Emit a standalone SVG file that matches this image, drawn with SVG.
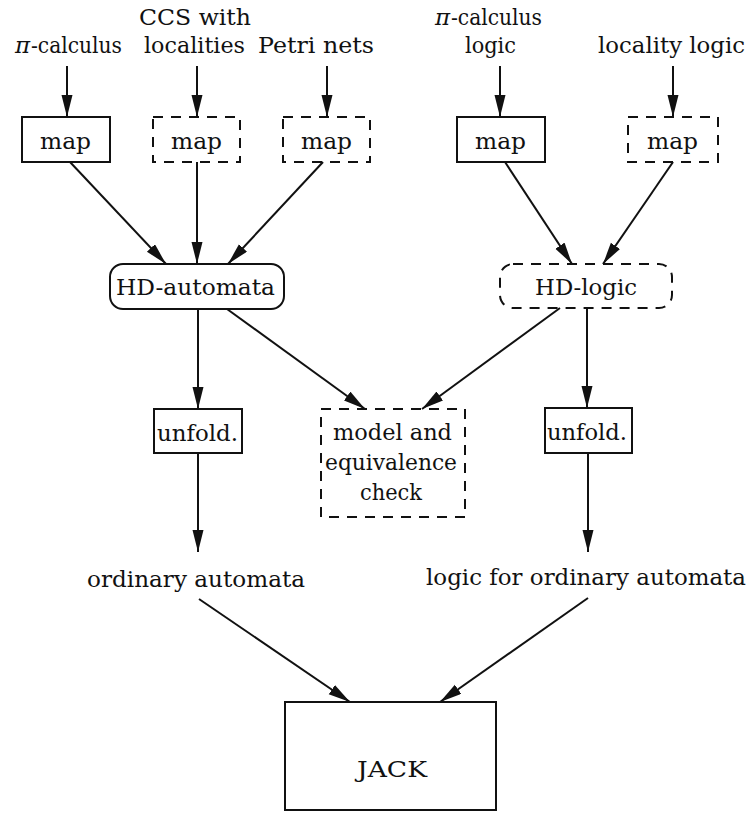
<svg xmlns="http://www.w3.org/2000/svg" width="750" height="814" viewBox="0 0 750 814">
<style>
text{font-family:"DejaVu Serif","Liberation Serif",serif;font-size:23px;fill:#111}
.b{fill:#fff;stroke:#111;stroke-width:2}
.d{fill:#fff;stroke:#111;stroke-width:2;stroke-dasharray:10 8}
.c line{stroke:#111;stroke-width:2;marker-end:url(#ah)}
.i{font-style:italic}
</style>
<defs>
<marker id="ah" markerUnits="userSpaceOnUse" markerWidth="24" markerHeight="12" refX="22" refY="5.5" orient="auto">
<path d="M0,0 L22,5.5 L0,11 Z" fill="#111"/>
</marker>
</defs>
<rect width="750" height="814" fill="#fff"/>
<g id="src-pi"><text class="i" x="15" y="53">π</text><text x="31" y="53" textLength="91" lengthAdjust="spacingAndGlyphs">-calculus</text></g>
<g id="src-ccs"><text x="139" y="25" textLength="112" lengthAdjust="spacingAndGlyphs">CCS with</text><text x="144" y="53" textLength="101" lengthAdjust="spacingAndGlyphs">localities</text></g>
<g id="src-petri"><text x="258" y="53" textLength="116" lengthAdjust="spacingAndGlyphs">Petri nets</text></g>
<g id="src-pilogic"><text class="i" x="435" y="25">π</text><text x="451" y="25" textLength="91" lengthAdjust="spacingAndGlyphs">-calculus</text><text x="465" y="53" textLength="51" lengthAdjust="spacingAndGlyphs">logic</text></g>
<g id="src-loclogic"><text x="598" y="53" textLength="147" lengthAdjust="spacingAndGlyphs">locality logic</text></g>
<g id="map1"><rect class="b" x="22" y="117" width="88" height="45"/><text x="40" y="149" textLength="51" lengthAdjust="spacingAndGlyphs">map</text></g>
<g id="map2"><rect class="d" x="153" y="117" width="87" height="45"/><text x="171" y="149" textLength="51" lengthAdjust="spacingAndGlyphs">map</text></g>
<g id="map3"><rect class="d" x="283" y="117" width="87" height="45"/><text x="301" y="149" textLength="51" lengthAdjust="spacingAndGlyphs">map</text></g>
<g id="map4"><rect class="b" x="457" y="117" width="88" height="45"/><text x="475" y="149" textLength="51" lengthAdjust="spacingAndGlyphs">map</text></g>
<g id="map5"><rect class="d" x="628" y="117" width="90" height="45"/><text x="647" y="149" textLength="51" lengthAdjust="spacingAndGlyphs">map</text></g>
<g id="hd-automata"><rect class="b" x="110" y="264" width="174" height="45" rx="13"/><text x="116" y="295" textLength="159" lengthAdjust="spacingAndGlyphs">HD-automata</text></g>
<g id="hd-logic"><rect class="d" x="500" y="264" width="172" height="44" rx="13"/><text x="535" y="295" textLength="102" lengthAdjust="spacingAndGlyphs">HD-logic</text></g>
<g id="unfold1"><rect class="b" x="154" y="409" width="88" height="44"/><text x="157" y="441" textLength="81" lengthAdjust="spacingAndGlyphs">unfold.</text></g>
<g id="check"><rect class="d" x="321" y="409" width="144" height="108"/><text x="333" y="440" textLength="119" lengthAdjust="spacingAndGlyphs">model and</text><text x="325" y="470" textLength="132" lengthAdjust="spacingAndGlyphs">equivalence</text><text x="360" y="500" textLength="62" lengthAdjust="spacingAndGlyphs">check</text></g>
<g id="unfold2"><rect class="b" x="545" y="408" width="87" height="45"/><text x="547" y="440" textLength="80" lengthAdjust="spacingAndGlyphs">unfold.</text></g>
<g id="ord-automata"><text x="87" y="587" textLength="218" lengthAdjust="spacingAndGlyphs">ordinary automata</text></g>
<g id="ord-logic"><text x="426" y="585" textLength="320" lengthAdjust="spacingAndGlyphs">logic for ordinary automata</text></g>
<g id="jack"><rect class="b" x="285" y="702" width="211" height="108"/><text x="357" y="777" textLength="70" lengthAdjust="spacingAndGlyphs">JACK</text></g>
<g id="connectors" class="c">
<line x1="67" y1="66" x2="67" y2="117"/>
<line x1="197" y1="66" x2="197" y2="117"/>
<line x1="327" y1="66" x2="327" y2="117"/>
<line x1="500" y1="66" x2="500" y2="117"/>
<line x1="673" y1="66" x2="673" y2="117"/>
<line x1="70" y1="162" x2="166" y2="264"/>
<line x1="197" y1="162" x2="197" y2="264"/>
<line x1="323" y1="162" x2="228" y2="264"/>
<line x1="505" y1="162" x2="572" y2="264"/>
<line x1="673" y1="162" x2="603" y2="264"/>
<line x1="198" y1="309" x2="198" y2="409"/>
<line x1="227" y1="309" x2="365" y2="409"/>
<line x1="560" y1="308" x2="422" y2="409"/>
<line x1="587" y1="308" x2="587" y2="408"/>
<line x1="198" y1="453" x2="198" y2="552"/>
<line x1="588" y1="453" x2="588" y2="552"/>
<line x1="199" y1="599" x2="350" y2="702"/>
<line x1="588" y1="598" x2="440" y2="702"/>
</g>
</svg>
